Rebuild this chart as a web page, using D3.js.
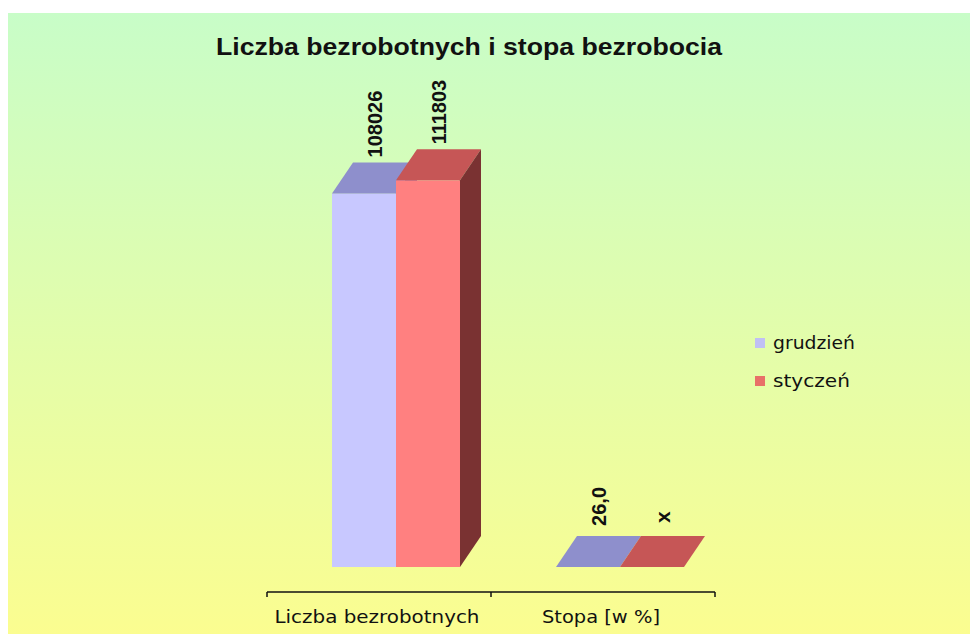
<!DOCTYPE html>
<html>
<head>
<meta charset="utf-8">
<script src="https://cdn.jsdelivr.net/npm/d3@7"></script>
<style>
  body { margin: 0; background: #fff; }
  svg { display: block; }
</style>
</head>
<body>
<svg id="chart" width="970" height="634"></svg>
<script>
// chart data
const categories = ['Liczba bezrobotnych', 'Stopa [w %]'];
const seriesNames = ['grudzień', 'styczeń'];
const grudzien = [108026, 26.0];
const styczen = [111803, null];
const grudzienLabels = ['108026', '26,0'];
const styczenLabels = ['111803', 'x'];

const series = [
  { name: seriesNames[0], values: grudzien, labels: grudzienLabels },
  { name: seriesNames[1], values: styczen, labels: styczenLabels },
];

// faces: front, top, side
const colours = {
  grudzień: { front: '#c8c8ff', top: '#8e8fcc', side: '#6a6aa6' },
  styczeń: { front: '#ff8080', top: '#c65656', side: '#7a3232' },
};

const svg = d3.select('#chart');
const depth = { dx: 21, dy: -31 };

// background
const grad = svg.append('defs').append('linearGradient')
  .attr('id', 'bg')
  .attr('x1', 0).attr('y1', 0).attr('x2', 0).attr('y2', 1);
grad.append('stop').attr('offset', '0%').attr('stop-color', '#c8fdc8');
grad.append('stop').attr('offset', '100%').attr('stop-color', '#fbfd90');
svg.append('rect')
  .attr('x', 8).attr('y', 13)
  .attr('width', 962).attr('height', 621)
  .attr('fill', 'url(#bg)');

// title
svg.append('text')
  .attr('x', 469)
  .attr('y', 55)
  .attr('text-anchor', 'middle')
  .attr('textLength', 506)
  .attr('lengthAdjust', 'spacingAndGlyphs')
  .style('font-family', '"Liberation Sans", Arial, sans-serif')
  .style('font-weight', 'bold')
  .style('font-size', '23px')
  .style('fill', '#111')
  .text('Liczba bezrobotnych i stopa bezrobocia');

// scales
const x = d3.scaleBand()
  .domain(categories)
  .range([267, 715]);
const xs = d3.scaleBand()
  .domain(seriesNames)
  .range([65, 193]);
const y = d3.scaleLinear()
  .domain([0, 120000])
  .range([567, 152]);

// bars, drawn back to front
const bars = svg.append('g').attr('class', 'bars');
categories.forEach((cat, ci) => {
  series.forEach((s) => {
    const v = s.values[ci] == null ? 0 : s.values[ci];
    const x0 = x(cat) + xs(s.name);
    const x1 = x0 + xs.bandwidth();
    const yTop = y(v);
    const yBase = y(0);
    const c = colours[s.name];
    const { dx, dy } = depth;
    const g = bars.append('g');

    g.append('rect')
      .attr('x', x0)
      .attr('y', yTop)
      .attr('width', x1 - x0)
      .attr('height', yBase - yTop)
      .attr('fill', c.front);
    g.append('polygon')
      .attr('points', [[x0, yTop], [x0 + dx, yTop + dy], [x1 + dx, yTop + dy], [x1, yTop]].join(' '))
      .attr('fill', c.top);
    g.append('polygon')
      .attr('points', [[x1, yTop], [x1 + dx, yTop + dy], [x1 + dx, yBase + dy], [x1, yBase]].join(' '))
      .attr('fill', c.side);

    // value label, rotated; flat tiles get a little more room
    const cx = (x0 + x1) / 2 + dx / 2;
    const gap = yBase - yTop < 5 ? 10 : 5;
    const isMissing = s.labels[ci] === 'x';
    g.append('text')
      .attr('transform', `translate(${cx},${yTop + dy - gap - (isMissing ? 3 : 0)}) rotate(-90)`)
      .attr('dy', '0.36em')
      .attr('text-anchor', 'start')
      .style('font-family', '"Liberation Sans", Arial, sans-serif')
      .style('font-weight', 'bold')
      .style('font-size', isMissing ? '21px' : '20px')
      .style('fill', '#111')
      .text(s.labels[ci]);
  });
});

// category axis
const axisY = 592;
const axis = svg.append('g').attr('class', 'axis');
axis.append('line')
  .attr('x1', x.range()[0]).attr('x2', x.range()[1])
  .attr('y1', axisY).attr('y2', axisY)
  .attr('stroke', '#111')
  .attr('stroke-width', 1.5);
axis.selectAll('line.tick')
  .data(categories.map((d) => x(d)).concat([x.range()[1]]))
  .join('line')
  .attr('class', 'tick')
  .attr('x1', (d) => d).attr('x2', (d) => d)
  .attr('y1', axisY).attr('y2', axisY + 5)
  .attr('stroke', '#111')
  .attr('stroke-width', 1.5);
const labelWidths = [205, 118];
axis.selectAll('text')
  .data(categories)
  .join('text')
  .attr('x', (d) => x(d) + x.bandwidth() / 2 - 2)
  .attr('y', 623)
  .attr('text-anchor', 'middle')
  .attr('textLength', (d, i) => labelWidths[i])
  .attr('lengthAdjust', 'spacingAndGlyphs')
  .style('font-family', '"DejaVu Sans", Verdana, sans-serif')
  .style('font-size', '17px')
  .style('fill', '#111')
  .text((d) => d);

// legend
const legendWidths = [82, 77];
const legend = svg.append('g')
  .attr('class', 'legend')
  .selectAll('g.item')
  .data(seriesNames)
  .join('g')
  .attr('class', 'item')
  .attr('transform', (d, i) => `translate(755,${338 + i * 38})`);
legend.append('rect')
  .attr('width', 10)
  .attr('height', 10)
  .attr('fill', (d) => (d === 'grudzień' ? '#c0c0f4' : '#e87068'));
legend.append('text')
  .attr('x', 18)
  .attr('y', 11)
  .attr('textLength', (d, i) => legendWidths[i])
  .attr('lengthAdjust', 'spacingAndGlyphs')
  .style('font-family', '"DejaVu Sans", Verdana, sans-serif')
  .style('font-size', '17px')
  .style('fill', '#111')
  .text((d) => d);
</script>
</body>
</html>
